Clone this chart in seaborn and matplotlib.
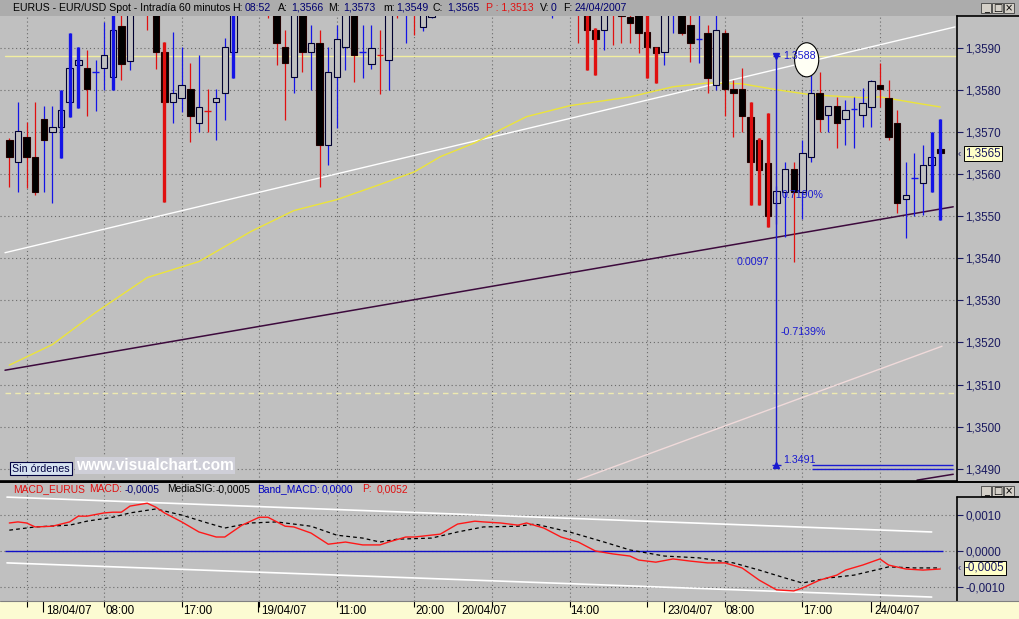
import numpy as np
import pandas as pd
import matplotlib
matplotlib.use("Agg")
import matplotlib.pyplot as plt
import seaborn as sns
from matplotlib.patches import Rectangle, Ellipse
from matplotlib.lines import Line2D

sns.set_style("white")
plt.rcParams['font.family'] = ['Liberation Sans', 'DejaVu Sans']

# ---------------- data ----------------
open_ = [1.35681, 1.35629, 1.35688, 1.35641, 1.35731, 1.35700, 1.35712, 1.35771, 1.35859, 1.35852,
         1.35842, 1.35852, 1.35831, 1.35951, 1.35868, 1.36000, 1.36030, 1.36000, 1.35890, 1.35771,
         1.35781, 1.35802, 1.35722, 1.35750, 1.35771, 1.35793, 1.35890, 1.36000, 1.36030, 1.36040,
         1.36020, 1.35990, 1.35902, 1.35831, 1.35985, 1.35890, 1.35911, 1.35669, 1.35831, 1.35902,
         1.35990, 1.35890, 1.35861, 1.35883, 1.35871, 1.36010, 1.35990, 1.36020, 1.35949, 1.35973,
         1.35995, 1.36025, 1.36060, 1.36050, 1.36090, 1.36070, 1.36100, 1.36130, 1.36110, 1.36080,
         1.36100, 1.36060, 1.36040, 1.36020, 1.36030, 1.36060, 1.36030, 1.35990, 1.35942, 1.35942,
         1.35990, 1.35990, 1.35973, 1.35980, 1.35937, 1.35902, 1.35890, 1.35985, 1.35990, 1.35954,
         1.35921, 1.35935, 1.35812, 1.35935, 1.35802, 1.35802, 1.35736, 1.35681, 1.35627, 1.35532,
         1.35558, 1.35612, 1.35558, 1.35641, 1.35793, 1.35740, 1.35762, 1.35731, 1.35755, 1.35740,
         1.35759, 1.35812, 1.35781, 1.35722, 1.35541, 1.35591, 1.35579, 1.35622, 1.35660]
high = [1.35686, 1.35771, 1.35724, 1.35771, 1.35762, 1.35762, 1.35800, 1.35935, 1.35902, 1.35894,
        1.35871, 1.35961, 1.35977, 1.35977, 1.36010, 1.36040, 1.36050, 1.36010, 1.35913, 1.35937,
        1.35902, 1.35864, 1.35883, 1.35802, 1.35802, 1.35923, 1.36010, 1.36040, 1.36060, 1.36060,
        1.36050, 1.36010, 1.35942, 1.36000, 1.35995, 1.35954, 1.35942, 1.35902, 1.35954, 1.36000,
        1.36000, 1.35954, 1.35954, 1.35942, 1.36000, 1.36030, 1.36020, 1.36040, 1.35995, 1.36010,
        1.36040, 1.36070, 1.36090, 1.36100, 1.36120, 1.36110, 1.36150, 1.36160, 1.36140, 1.36120,
        1.36130, 1.36090, 1.36070, 1.36050, 1.36080, 1.36090, 1.36050, 1.36000, 1.35947, 1.35990,
        1.36010, 1.36005, 1.35990, 1.35990, 1.35985, 1.35902, 1.36000, 1.36010, 1.36000, 1.35985,
        1.35985, 1.35954, 1.35985, 1.35942, 1.35823, 1.35852, 1.35771, 1.35686, 1.35745, 1.35572,
        1.35629, 1.35629, 1.35681, 1.35835, 1.35842, 1.35762, 1.35783, 1.35776, 1.35783, 1.35804,
        1.35823, 1.35864, 1.35823, 1.35752, 1.35629, 1.35650, 1.35669, 1.35700, 1.35730]
low = [1.35570, 1.35558, 1.35567, 1.35551, 1.35558, 1.35532, 1.35639, 1.35736, 1.35757, 1.35738,
       1.35750, 1.35800, 1.35800, 1.35823, 1.35847, 1.35985, 1.35942, 1.35849, 1.35534, 1.35722,
       1.35748, 1.35676, 1.35700, 1.35700, 1.35681, 1.35729, 1.35828, 1.35990, 1.36010, 1.36000,
       1.35970, 1.35859, 1.35729, 1.35793, 1.35842, 1.35800, 1.35570, 1.35622, 1.35710, 1.35847,
       1.35819, 1.35828, 1.35849, 1.35790, 1.35800, 1.35970, 1.35911, 1.35930, 1.35940, 1.35970,
       1.35985, 1.36010, 1.36040, 1.36030, 1.36060, 1.36040, 1.36080, 1.36090, 1.36070, 1.36050,
       1.36040, 1.36020, 1.36000, 1.35970, 1.36000, 1.36010, 1.35911, 1.35847, 1.35835, 1.35894,
       1.35906, 1.35911, 1.35911, 1.35887, 1.35828, 1.35816, 1.35859, 1.35935, 1.35930, 1.35866,
       1.35864, 1.35793, 1.35800, 1.35738, 1.35688, 1.35700, 1.35527, 1.35527, 1.35475, 1.35480,
       1.35451, 1.35392, 1.35492, 1.35629, 1.35700, 1.35700, 1.35662, 1.35669, 1.35662, 1.35712,
       1.35712, 1.35759, 1.35681, 1.35508, 1.35449, 1.35499, 1.35503, 1.35556, 1.35490]
close = [1.35641, 1.35703, 1.35641, 1.35558, 1.35681, 1.35712, 1.35752, 1.35852, 1.35871, 1.35802,
         1.35842, 1.35883, 1.35942, 1.35861, 1.35995, 1.36020, 1.35990, 1.35890, 1.35771, 1.35793,
         1.35812, 1.35738, 1.35759, 1.35750, 1.35781, 1.35902, 1.35990, 1.36030, 1.36040, 1.36010,
         1.35990, 1.35911, 1.35864, 1.35985, 1.35890, 1.35911, 1.35669, 1.35842, 1.35921, 1.35985,
         1.35883, 1.35890, 1.35899, 1.35883, 1.35990, 1.35980, 1.36005, 1.35980, 1.35995, 1.36000,
         1.36025, 1.36060, 1.36050, 1.36090, 1.36070, 1.36100, 1.36130, 1.36110, 1.36080, 1.36100,
         1.36060, 1.36040, 1.36020, 1.36030, 1.36060, 1.36030, 1.35990, 1.35942, 1.35921, 1.35985,
         1.35980, 1.35976, 1.35958, 1.35935, 1.35902, 1.35887, 1.35985, 1.35995, 1.35935, 1.35911,
         1.35921, 1.35828, 1.35942, 1.35802, 1.35793, 1.35738, 1.35629, 1.35610, 1.35499, 1.35560,
         1.35612, 1.35558, 1.35650, 1.35793, 1.35731, 1.35762, 1.35722, 1.35752, 1.35755, 1.35769,
         1.35821, 1.35802, 1.35688, 1.35532, 1.35551, 1.35591, 1.35622, 1.35641, 1.35650]
signal_bars = [6, 7, 8, 12, 18, 26, 67, 68, 74, 75, 86, 87, 88, 107, 108]

ma_bar = [0, 5, 10, 16, 22, 28, 33, 38, 43, 47, 50, 54, 56, 60, 65, 72, 77, 81, 85, 89, 93, 99, 101, 105, 108]
ma_val = [1.35146, 1.35195, 1.35271, 1.35354, 1.35392, 1.35463, 1.35513, 1.35539, 1.35575, 1.35605,
          1.35641, 1.35674, 1.35695, 1.35736, 1.35762, 1.35783, 1.35807, 1.35816, 1.35814, 1.35800,
          1.35788, 1.35781, 1.35783, 1.35769, 1.35759]

white_line_bar, white_line_val = [-0.5, 109.7], [1.35413, 1.35949]
purple_line_bar, purple_line_val = [-0.5, 109.5], [1.35134, 1.35522]
pink_line_bar, pink_line_val = [65.9, 108.2], [1.34873, 1.35191]
purple2_bar, purple2_val = [105.3, 109.5], [1.34873, 1.34887]
level_solid = 1.3588
level_dashed = 1.3508
measure_bar, measure_top, measure_bottom = 89, 1.3588, 1.3491
target_bar = [93.1, 109.5]
target_vals = [1.3491, 1.3490]

macd_bar = [0, 1, 2, 3, 5, 7, 8, 9, 11, 12, 13, 14, 16, 17, 18, 20, 22, 24, 25, 27, 29, 30, 32, 33, 35,
            37, 38, 39, 41, 43, 44, 46, 47, 50, 52, 54, 55, 57, 59, 60, 62, 64, 66, 68, 70, 72, 73, 75,
            77, 79, 81, 83, 85, 87, 89, 91, 92, 94, 96, 97, 99, 101, 102, 104, 106, 108]
macd_val = [0.00078, 0.00081, 0.00078, 0.00067, 0.00069, 0.00081, 0.00097, 0.00097, 0.00106, 0.00108,
            0.00108, 0.00125, 0.00133, 0.00122, 0.00106, 0.00081, 0.00053, 0.00039, 0.00039, 0.00072,
            0.00094, 0.00094, 0.00069, 0.00067, 0.00050, 0.00019, 0.00022, 0.00025, 0.00017, 0.00017,
            0.00025, 0.00039, 0.00039, 0.00047, 0.00075, 0.00083, 0.00081, 0.00078, 0.00072, 0.00078,
            0.00064, 0.00039, 0.00025, 0.0, -0.00008, -0.00014, -0.00025, -0.00031, -0.00022, -0.00028,
            -0.00033, -0.00033, -0.00047, -0.00081, -0.00108, -0.00111, -0.00103, -0.00081, -0.00067,
            -0.00053, -0.00039, -0.00022, -0.00039, -0.00050, -0.00053, -0.0005]
sig_bar = [0, 3, 7, 9, 12, 14, 17, 20, 23, 25, 28, 31, 35, 38, 41, 43, 45, 49, 52, 55, 59, 61, 65, 69,
           72, 76, 80, 84, 87, 90, 92, 95, 98, 101, 102, 105, 108]
sig_val = [0.00058, 0.00067, 0.00072, 0.00083, 0.00094, 0.00106, 0.00117, 0.00100, 0.00078, 0.00064,
           0.00078, 0.00081, 0.00069, 0.00044, 0.00036, 0.00025, 0.00033, 0.00036, 0.00053, 0.00067,
           0.00069, 0.00075, 0.00053, 0.00025, 0.00003, -0.00014, -0.00019, -0.00033, -0.00053,
           -0.00075, -0.00089, -0.00075, -0.00067, -0.00050, -0.00044, -0.00047, -0.00047]
band_bar = [-0.27, 107.0]
band_upper = [0.0015, 0.00053]
band_lower = [-0.00033, -0.00128]

price_ticks = [1.3490, 1.3500, 1.3510, 1.3520, 1.3530, 1.3540, 1.3550, 1.3560, 1.3570, 1.3580, 1.3590]
macd_ticks = [-0.0010, 0.0, 0.0010]
grid_bars = [2, 11, 20, 29, 38, 47, 56, 65, 74, 83, 92, 101]
time_bars = [11, 20, 38, 47, 65, 83, 92]
time_labels = ["08:00", "17:00", "11:00", "20:00", "14:00", "08:00", "17:00"]
date_bars = [3.9, 28.8, 52.05, 75.95, 99.96]
date_labels = ["18/04/07", "19/04/07", "20/04/07", "23/04/07", "24/04/07"]

# ---------------- figure ----------------
W, H = 1020, 619
BG = '#c0c0c0'
NAVY = '#000070'
RED = '#e01010'
BLUE = '#1414e6'
fig = plt.figure(figsize=(W / 100, H / 100), dpi=100, facecolor=BG)


def px_axes(x0, y0, x1, y1):
    return fig.add_axes([x0 / W, 1 - y1 / H, (x1 - x0) / W, (y1 - y0) / H])


def fx(x):
    return x / W


def fy(y):
    return 1 - y / H


def fmt(v):
    return f"{v:.4f}".replace('.', ',')


XL = (-1.08, 109.94)
dotted = (0, (1, 2.5))

# title bar
tb = px_axes(0, 0, 1020, 16)
tb.set_facecolor('#acacac')
tb.set_xticks([]); tb.set_yticks([])
for s in tb.spines.values():
    s.set_visible(False)

title_parts = [("EURUS - EUR/USD Spot - Intradía 60 minutos", 13, 'black'),
               ("H:", 232, 'black'), ("08:52", 245, NAVY),
               ("A:", 278, 'black'), ("1,3566", 291, NAVY),
               ("M:", 328, 'black'), ("1,3573", 343, NAVY),
               ("m:", 383, 'black'), ("1,3549", 396, NAVY),
               ("C:", 433, 'black'), ("1,3565", 447, NAVY),
               ("P : 1,3513", 486, RED),
               ("V:", 540, 'black'), ("0", 551, NAVY),
               ("F:", 563, 'black'), ("24/04/2007", 575, NAVY)]
for s, x, c in title_parts:
    fig.text(fx(x), fy(8), s, color=c, fontsize=7.6, ha='left', va='center')

# ---------------- main panel ----------------
ax = px_axes(0, 16, 957, 481)
ax.set_facecolor(BG)
ax.set_xlim(*XL)
ax.set_ylim(1.34871, 1.35975)
for b in grid_bars:
    ax.axvline(b, color='#6a6a6a', lw=0.8, ls=dotted, zorder=1)
for p in price_ticks:
    ax.axhline(p, color='#6a6a6a', lw=0.8, ls=dotted, zorder=1)

df = pd.DataFrame(dict(bar=np.arange(len(open_)), o=open_, h=high, l=low, c=close))
prev = df['c'].shift(1).fillna(df['o'])
df['up'] = df['c'] >= prev
df['col'] = np.where(df['up'], BLUE, RED)

ax.vlines(df['bar'], df['l'], df['h'], colors=df['col'], lw=0.9, zorder=3)
bw = 0.75
for r in df.itertuples():
    lo, hi = min(r.o, r.c), max(r.o, r.c)
    if hi - lo < 1e-7:
        ax.hlines(r.o, r.bar - bw / 2, r.bar + bw / 2, colors=r.col, lw=1.0, zorder=4)
        continue
    bear = r.c < r.o
    ax.add_patch(Rectangle((r.bar - bw / 2, lo), bw, hi - lo,
                           facecolor='black' if bear else BG,
                           edgecolor='#200000' if bear else '#000030',
                           lw=0.8, zorder=4))
sig = df.loc[df['bar'].isin(signal_bars)]
ax.vlines(sig['bar'], sig['l'], sig['h'], colors=sig['col'], lw=2.4, zorder=5)

# overlays
ax.axhline(level_solid, color='#f2eea0', lw=1.0, zorder=2, xmin=0.005)
ax.axhline(level_dashed, color='#eeeab0', lw=1.0, ls=(0, (4, 3)), zorder=2, xmin=0.005)
ax.plot(white_line_bar, white_line_val, color='white', lw=1.0, zorder=2)
ax.plot(purple_line_bar, purple_line_val, color='#3c0a3c', lw=1.1, zorder=2)
ax.plot(pink_line_bar, pink_line_val, color='#f0dada', lw=1.0, zorder=2)
ax.plot(purple2_bar, purple2_val, color='#3c0a3c', lw=1.1, zorder=2)
sns.lineplot(x=ma_bar, y=ma_val, ax=ax, color='#ece43a', lw=1.0, zorder=2, legend=False)

# measurement tool
ax.vlines(measure_bar, measure_bottom, measure_top, colors='#1a1ad0', lw=1.0, zorder=6)
ax.plot([measure_bar], [measure_top], marker='v', ms=4, color='#1a1ad0', zorder=6)
ax.hlines(measure_top, measure_bar - 0.45, measure_bar + 0.45, colors='#1a1ad0', lw=1, zorder=6)
ax.plot([measure_bar], [measure_bottom], marker='^', ms=4, color='#1a1ad0', zorder=6)
ax.hlines(measure_bottom, measure_bar - 0.5, measure_bar + 0.5, colors='#1a1ad0', lw=1, zorder=6)
ax.hlines(target_vals, target_bar[0], target_bar[1], colors='#1a1ad0', lw=1.0, zorder=6)
ax.add_patch(Ellipse((92.5, 1.35871), 2.8, 0.00081, facecolor='#fffff4', edgecolor='black', lw=0.8, zorder=7))
mfs = 7.7
ax.text(89.75, 1.3588, "1.3588", color='#1a1ad0', fontsize=mfs, va='center', ha='left', zorder=8)
ax.text(89.6, 1.35551, "0.7190%", color='#1a1ad0', fontsize=mfs, va='center', ha='left', zorder=8)
ax.text(88.2, 1.35390, "0.0097", color='#1a1ad0', fontsize=mfs, va='center', ha='right', zorder=8)
ax.text(89.5, 1.35224, "-0.7139%", color='#1a1ad0', fontsize=mfs, va='center', ha='left', zorder=8)
ax.text(89.75, 1.34921, "1.3491", color='#1a1ad0', fontsize=mfs, va='center', ha='left', zorder=8)

ax.set_xticks([])
ax.yaxis.tick_right()
ax.set_yticks(price_ticks)
ax.set_yticklabels([fmt(p) for p in price_ticks], color='#1a1a60', fontsize=8.4)
ax.tick_params(axis='y', direction='out', length=4, width=0.8, color='#1a1a60', pad=2)
for k in ['left', 'top']:
    ax.spines[k].set_visible(False)
for k in ['right', 'bottom']:
    ax.spines[k].set_color('black'); ax.spines[k].set_linewidth(1.2)

# current price tag
fig.text(fx(965), fy(153.5), fmt(close[-1]), fontsize=8.4, color='#1a1a60', ha='left', va='center',
         bbox=dict(boxstyle='square,pad=0.12', facecolor='#ffffc8', edgecolor='black', lw=0.7))
fig.text(fx(958), fy(153.5), "‹", fontsize=7, color='#1a1a60', ha='left', va='center')

# watermark + order box
fig.text(fx(12), fy(468.5), "Sin órdenes", fontsize=7.7, color='#000040', ha='left', va='center',
         bbox=dict(boxstyle='square,pad=0.18', facecolor='#d6e2f0', edgecolor='#000040', lw=0.8))
fig.text(fx(76), fy(465.5), "www.visualchart.com", fontsize=11.2, fontweight='bold', color='white',
         ha='left', va='center', bbox=dict(boxstyle='square,pad=0.05', facecolor='#cfcfd8', edgecolor='none'))

# ---------------- MACD panel ----------------
mx = px_axes(0, 482, 957, 601)
mx.set_facecolor(BG)
mx.set_xlim(*XL)
mx.set_ylim(-0.00139, 0.00192)
for b in grid_bars:
    mx.axvline(b, color='#6a6a6a', lw=0.8, ls=dotted, zorder=1)
for p in macd_ticks:
    mx.axhline(p, color='#6a6a6a', lw=0.8, ls=dotted, zorder=1)
mx.plot(band_bar, band_upper, color='white', lw=1.2, zorder=2)
mx.plot(band_bar, band_lower, color='white', lw=1.2, zorder=2)
mx.hlines(0.0, -0.5, 108.3, colors='#1010c8', lw=1.0, zorder=2)
sns.lineplot(x=sig_bar, y=sig_val, ax=mx, color='black', lw=0.9, ls=(0, (3, 2.5)), zorder=3, legend=False)
sns.lineplot(x=macd_bar, y=macd_val, ax=mx, color='#ff1818', lw=1.0, zorder=4, legend=False)
mx.set_xticks([])
mx.yaxis.tick_right()
mx.set_yticks(macd_ticks)
mx.set_yticklabels([fmt(v) for v in macd_ticks], color='#1a1a60', fontsize=8.4)
mx.tick_params(axis='y', direction='out', length=4, width=0.8, color='#1a1a60', pad=2)
for s in mx.spines.values():
    s.set_visible(False)
mx.set_ylabel(""); mx.set_xlabel("")
ax.set_ylabel(""); ax.set_xlabel("")

macd_parts = [("MACD_EURUS", 13, RED), ("MACD:", 89, RED), ("-0,0005", 125, NAVY),
              ("MediaSIG:", 167, 'black'), ("-0,0005", 216, 'black'),
              ("Band_MACD:", 257, '#0000c0'), ("0,0000", 322, '#0000c0'),
              ("P:", 362, RED), ("0,0052", 377, RED)]
for s, x, c in macd_parts:
    fig.text(fx(x), fy(489.5), s, color=c, fontsize=7.4, ha='left', va='center')

fig.text(fx(965), fy(568), fmt(macd_val[-1]), fontsize=8.4, color='#1a1a60', ha='left', va='center',
         bbox=dict(boxstyle='square,pad=0.12', facecolor='#ffffc8', edgecolor='black', lw=0.7))
fig.text(fx(958), fy(568), "‹", fontsize=7, color='#1a1a60', ha='left', va='center')

# ---------------- bottom time strip ----------------
st = px_axes(0, 601, 1020, 619)
st.set_facecolor('#fcfbd2')
st.set_xlim(XL[0], XL[0] + 1020 / (957 / (XL[1] - XL[0])))
st.set_ylim(1, 0)
st.set_xticks([]); st.set_yticks([])
for s in st.spines.values():
    s.set_visible(False)
st.vlines(grid_bars, 0, 0.35, colors='black', lw=0.8)
st.vlines(date_bars, 0, 0.6, colors='black', lw=0.8)
for b, t in zip(time_bars, time_labels):
    st.text(b + 0.12, 0.58, t, fontsize=8.4, color='black', ha='left', va='center')
for b, t in zip(date_bars, date_labels):
    st.text(b + 0.4, 0.58, t, fontsize=8.4, color='black', ha='left', va='center')

# ---------------- frames / window chrome ----------------
def fline(x0, y0, x1, y1, **kw):
    fig.add_artist(Line2D([fx(x0), fx(x1)], [fy(y0), fy(y1)], transform=fig.transFigure, **kw))

fline(957, 15.5, 1020, 15.5, color='black', lw=1.2)
fline(0, 481.5, 1020, 481.5, color='black', lw=1.4)
fline(957, 497, 1020, 497, color='black', lw=1.2)
fline(957, 497, 957, 601, color='black', lw=1.2)
fline(0, 601, 1020, 601, color='#808080', lw=0.8)

for ytop in (3, 486):
    for i, sym in enumerate(["_", "□", "×"]):
        x0 = 981 + i * 11.5
        fig.add_artist(Rectangle((fx(x0), fy(ytop + 10)), 10.5 / W, 10 / H, transform=fig.transFigure,
                                 facecolor='#d4d0c8', edgecolor='#404040', lw=0.6))
        fig.text(fx(x0 + 5.2), fy(ytop + 5.2), sym, fontsize=7, color='black', ha='center', va='center',
                 family=['DejaVu Sans'])

fig.savefig("out.png", dpi=100, facecolor=BG)
